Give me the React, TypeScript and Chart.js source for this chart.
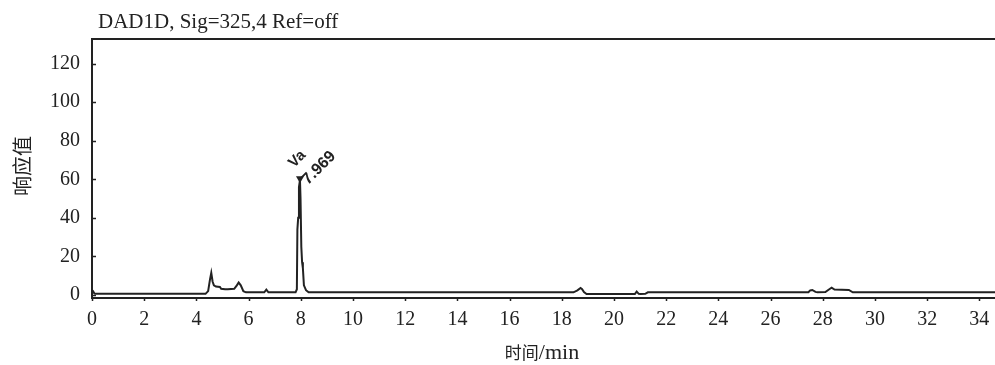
import React, { useEffect, useRef } from "react";
import { Chart, registerables } from "chart.js";

Chart.register(...registerables);

const titleText = "DAD1D, Sig=325,4 Ref=off";
const xTitleCjk = "时间";
const xTitleUnit = "/min";
const yTitle = "响应值";
const peakLabel = "Va";
const peakTime = 7.969;
const peakTimeLabel = "7.969";

const times = [
  0, 0.05, 0.1, 0.15, 4.35, 4.45, 4.52, 4.57, 4.62, 4.67, 4.75, 4.9, 4.95, 5.1, 5.2, 5.45, 5.55, 5.62, 5.7, 5.8, 5.9,
  6.6, 6.68, 6.76, 7.8, 7.85, 7.87, 7.9, 7.93, 7.969, 7.99, 8.02, 8.05, 8.08, 8.12, 8.2, 8.3,
  18.45, 18.6, 18.72, 18.78, 18.85, 18.95, 20.8, 20.87, 20.95, 21.02, 21.2, 21.3,
  27.45, 27.52, 27.6, 27.72, 27.8, 28.1, 28.25, 28.34, 28.45, 29.0, 29.15, 34.6,
];
const signal = [
  0.7, 1.8, 0.7, 0.6, 0.6, 2, 8, 11.5, 7, 5, 4.4, 4.2, 3.2, 3.0, 3.0, 3.2, 5, 6.5, 5, 2, 1.4,
  1.4, 2.8, 1.4, 1.4, 3, 34, 40, 56, 59.5, 50, 25, 17, 14, 5, 2.5, 1.4,
  1.4, 2.4, 3.6, 3.0, 1.5, 0.5, 0.5, 1.8, 0.6, 0.5, 0.6, 1.4,
  1.4, 2.4, 2.6, 1.6, 1.4, 1.5, 3.0, 3.8, 2.8, 2.6, 1.4, 1.4,
];

const xTickValues = [0, 2, 4, 6, 8, 10, 12, 14, 16, 18, 20, 22, 24, 26, 28, 30, 32, 34];
const yTickValues = [0, 20, 40, 60, 80, 100, 120];

const X_MIN = 0;
const X_MAX = 34.6;
const Y_MIN = -1.55;
const Y_MAX = 132.7;

const ink = "#222";
const serif = '"Liberation Serif", "Times New Roman", serif';
const cjk = '"Noto Sans CJK SC", sans-serif';
const sans = '"Liberation Sans", Arial, sans-serif';

export default function App() {
  const ref = useRef<HTMLCanvasElement | null>(null);

  useEffect(() => {
    const canvas = ref.current;
    if (!canvas) return;

    const decor = {
      id: "decor",
      afterDraw(chart: any) {
        const ctx = chart.ctx as CanvasRenderingContext2D;
        const { left, right, top, bottom } = chart.chartArea;
        const xs = chart.scales.x;
        const ys = chart.scales.y;
        ctx.save();
        ctx.strokeStyle = ink;
        ctx.lineWidth = 2;
        ctx.beginPath();
        ctx.moveTo(right + 5, top);
        ctx.lineTo(left, top);
        ctx.lineTo(left, bottom);
        ctx.lineTo(right + 5, bottom);
        ctx.stroke();
        ctx.lineWidth = 1.5;
        ctx.beginPath();
        for (const v of yTickValues) {
          const y = Math.round(ys.getPixelForValue(v)) + 0.5;
          ctx.moveTo(left, y);
          ctx.lineTo(left + 4, y);
        }
        for (const v of xTickValues) {
          const x = Math.round(xs.getPixelForValue(v)) + 0.5;
          ctx.moveTo(x, bottom);
          ctx.lineTo(x, bottom + 3);
        }
        ctx.stroke();

        ctx.fillStyle = ink;
        ctx.font = `21px ${serif}`;
        ctx.textAlign = "left";
        ctx.textBaseline = "alphabetic";
        ctx.fillText(titleText, 98, 28);

        // x title
        ctx.font = `17px ${cjk}`;
        const w1 = ctx.measureText(xTitleCjk).width;
        ctx.font = `22px ${serif}`;
        const w2 = ctx.measureText(xTitleUnit).width;
        const startX = 542 - (w1 + w2) / 2;
        ctx.font = `17px ${cjk}`;
        ctx.fillText(xTitleCjk, startX, 359);
        ctx.font = `22px ${serif}`;
        ctx.fillText(xTitleUnit, startX + w1, 359);

        // y title
        ctx.save();
        ctx.translate(22, 166);
        ctx.rotate(-Math.PI / 2);
        ctx.font = `20px ${cjk}`;
        ctx.textAlign = "center";
        ctx.textBaseline = "middle";
        ctx.fillText(yTitle, 0, 0);
        ctx.restore();

        // peak marker
        const idx = times.indexOf(peakTime);
        const px = xs.getPixelForValue(peakTime);
        const py = ys.getPixelForValue(signal[idx]);
        ctx.beginPath();
        ctx.moveTo(px - 4, py - 4);
        ctx.lineTo(px + 4, py - 4);
        ctx.lineTo(px, py + 3);
        ctx.closePath();
        ctx.fill();
        ctx.textAlign = "left";
        ctx.textBaseline = "alphabetic";
        ctx.save();
        ctx.font = `bold 15px ${sans}`;
        ctx.translate(px - 6, py - 12);
        ctx.rotate(-Math.PI / 4);
        ctx.fillText(peakLabel, 0, 0);
        ctx.restore();
        ctx.save();
        ctx.font = `bold 16px ${sans}`;
        ctx.translate(px + 8, py + 5);
        ctx.rotate(-Math.PI / 4);
        ctx.fillText(peakTimeLabel, 0, 0);
        ctx.restore();
        ctx.restore();
      },
    };

    const chart = new Chart(canvas, {
      type: "line",
      data: {
        datasets: [
          {
            data: times.map((t, i) => ({ x: t, y: signal[i] })),
            borderColor: ink,
            borderWidth: 2,
            pointRadius: 0,
            tension: 0,
            fill: false,
          },
        ],
      },
      options: {
        animation: false,
        responsive: false,
        maintainAspectRatio: false,
        layout: { autoPadding: false, padding: { top: 39, right: 0, left: 0, bottom: 0 } },
        plugins: { legend: { display: false }, tooltip: { enabled: false }, title: { display: false } },
        scales: {
          x: {
            type: "linear",
            min: X_MIN,
            max: X_MAX,
            grid: { display: false, drawTicks: false, tickLength: 0 },
            border: { display: false },
            ticks: {
              padding: 10,
              color: ink,
              font: { family: serif, size: 20 },
              maxRotation: 0,
              autoSkip: false,
            },
            afterBuildTicks: (s: any) => {
              s.ticks = xTickValues.map((v) => ({ value: v }));
            },
            afterFit: (s: any) => {
              s.height = 67;
              s.paddingLeft = 0;
              s.paddingRight = 0;
            },
          },
          y: {
            type: "linear",
            min: Y_MIN,
            max: Y_MAX,
            grid: { display: false, drawTicks: false, tickLength: 0 },
            border: { display: false },
            ticks: {
              padding: 12,
              color: ink,
              font: { family: serif, size: 20 },
            },
            afterBuildTicks: (s: any) => {
              s.ticks = yTickValues.map((v) => ({ value: v }));
            },
            afterFit: (s: any) => {
              s.width = 92;
              s.paddingTop = 0;
              s.paddingBottom = 0;
            },
          },
        },
      },
      plugins: [decor],
    });
    return () => chart.destroy();
  }, []);

  return (
    <div style={{ position: "fixed", left: 0, top: 0, width: 995, height: 365, background: "#fff" }}>
      <canvas ref={ref} width={995} height={365} style={{ width: 995, height: 365, display: "block" }} />
    </div>
  );
}
